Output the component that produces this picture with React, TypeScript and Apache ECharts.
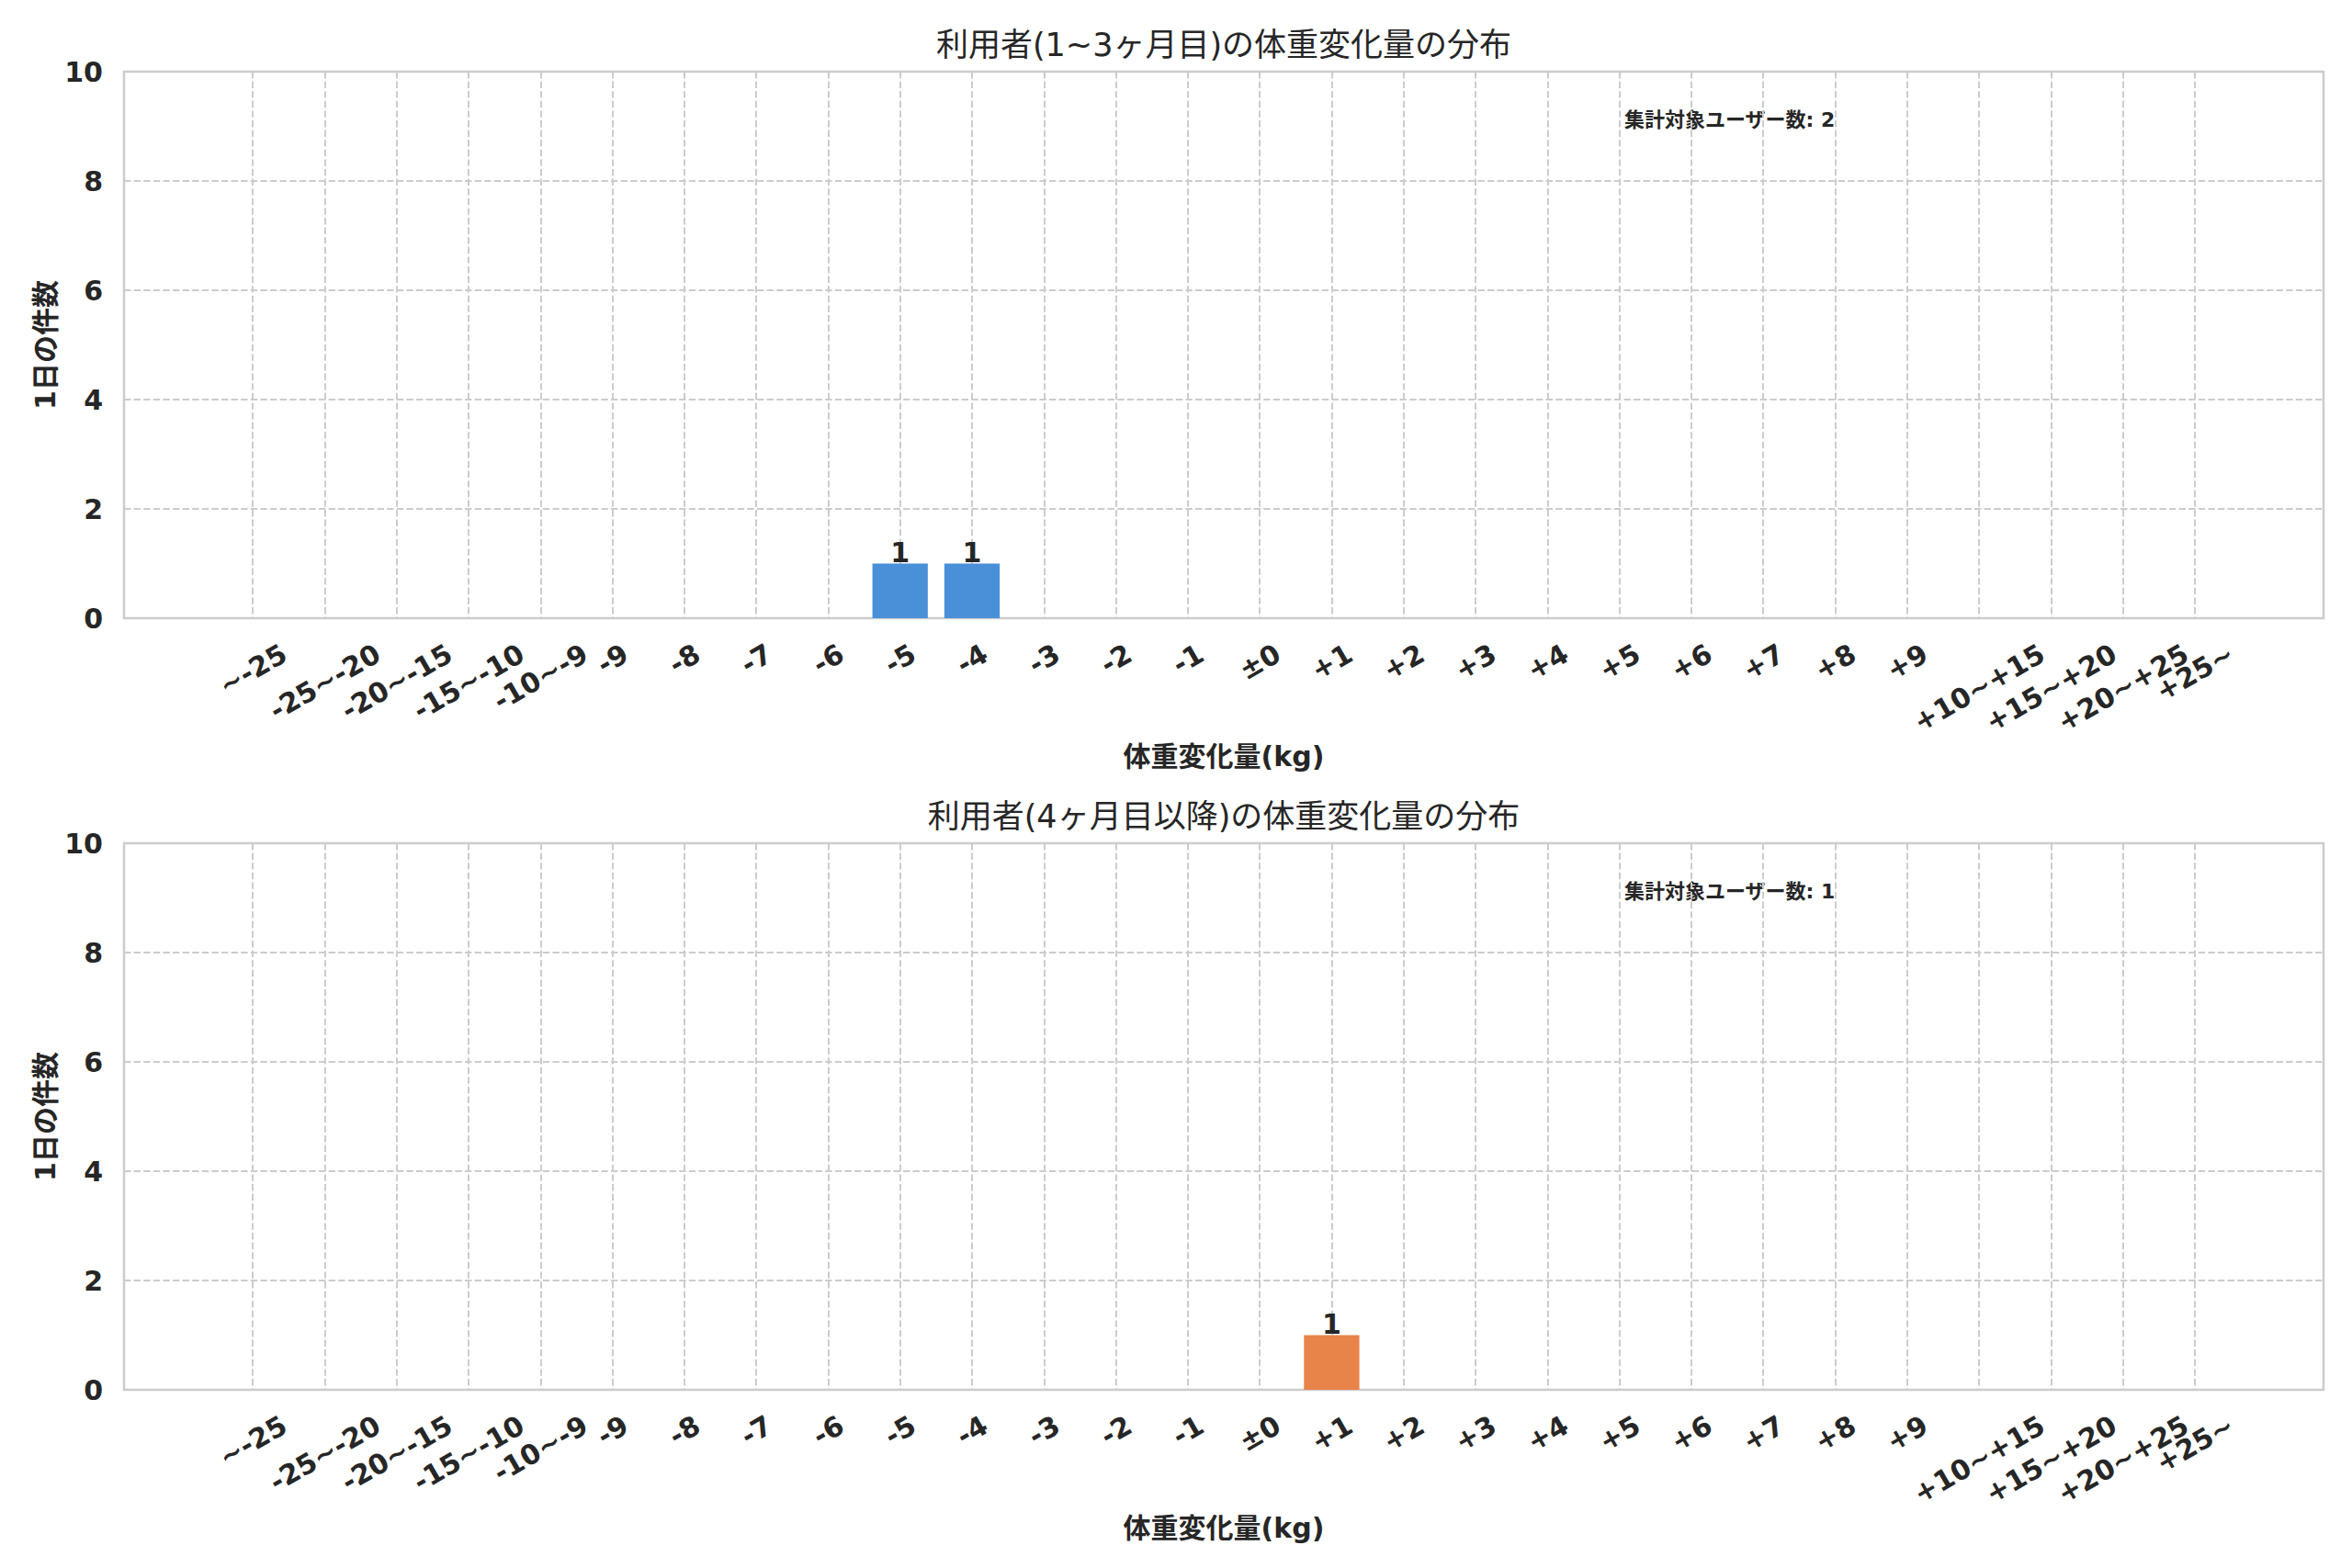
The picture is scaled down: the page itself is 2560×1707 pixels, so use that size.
import React, { useEffect, useRef } from 'react';
import * as echarts from 'echarts';

// ---- data ----
const CATEGORIES = [
  '~-25', '-25~-20', '-20~-15', '-15~-10', '-10~-9', '-9', '-8', '-7', '-6', '-5',
  '-4', '-3', '-2', '-1', '±0', '+1', '+2', '+3', '+4', '+5', '+6', '+7', '+8', '+9',
  '+10~+15', '+15~+20', '+20~+25', '+25~',
];
const SHORT_TERM_COUNTS = [0, 0, 0, 0, 0, 0, 0, 0, 0, 1, 1, 0, 0, 0, 0, 0, 0, 0, 0, 0, 0, 0, 0, 0, 0, 0, 0, 0];
const LONG_TERM_COUNTS = [0, 0, 0, 0, 0, 0, 0, 0, 0, 0, 0, 0, 0, 0, 0, 1, 0, 0, 0, 0, 0, 0, 0, 0, 0, 0, 0, 0];
const PANEL_TITLES = ['利用者(1~3ヶ月目)の体重変化量の分布', '利用者(4ヶ月目以降)の体重変化量の分布'];
const PANEL_COLORS = ['#4a90d9', '#e8834a'];
const X_AXIS_NAME = '体重変化量(kg)';
const Y_AXIS_NAME = '1日の件数';
const TOTAL_LABEL = '集計対象ユーザー数';
const Y_MIN = 0;
const Y_MAX = 10;
const Y_INTERVAL = 2;

const FONT = '"DejaVu Sans", "Noto Sans CJK JP", sans-serif';
const TEXT_COLOR = '#262626';
const GRID_COLOR = '#cccccc';

export default function App() {
  const ref = useRef<HTMLDivElement>(null);

  useEffect(() => {
    if (!ref.current) return;
    const chart = echarts.init(ref.current, undefined, { renderer: 'svg' });

    const panels = [SHORT_TERM_COUNTS, LONG_TERM_COUNTS];
    const plotLeft = 135;
    const plotRight = 31;
    const plotTops = [78, 918];
    const plotHeight = 595;
    const plotWidth = 2560 - plotLeft - plotRight;
    const xMin = -1.79;
    const xMax = CATEGORIES.length - 1 + 1.79;
    const idx = CATEGORIES.map((_, i) => i);
    // empty labels at both ends so no category label is dropped as "overlapping the max label"
    const labelValues = [xMin, ...idx, xMax];

    // measure label widths to mimic centered rotated labels (top-aligned boxes)
    const canvas = document.createElement('canvas');
    const ctx = canvas.getContext('2d')!;
    ctx.font = 'bold 30px "DejaVu Sans"';
    const rich: Record<string, any> = {};
    CATEGORIES.forEach((c, i) => {
      const w = ctx.measureText(c).width;
      const d = w / 4;
      rich['l' + i] = {
        fontSize: 30,
        fontWeight: 'bold',
        fontFamily: FONT,
        color: TEXT_COLOR,
        padding: [1.732 * d, d, 0, 0],
      };
    });

    const grids = plotTops.map((top) => ({
      left: plotLeft,
      top,
      width: plotWidth,
      height: plotHeight,
      show: true,
      borderColor: GRID_COLOR,
      borderWidth: 2.5,
      backgroundColor: 'transparent',
      containLabel: false,
      outerBoundsMode: 'none',
    }));

    const xAxes = panels.map((_, g) => ({
      type: 'value',
      gridIndex: g,
      min: xMin,
      max: xMax,
      axisLine: { show: false },
      axisTick: { show: false, customValues: idx },
      splitLine: { show: true, lineStyle: { color: GRID_COLOR, width: 2, type: [7.4, 3.2] } },
      axisLabel: {
        customValues: labelValues,
        rotate: 30,
        align: 'center',
        verticalAlign: 'middle',
        margin: 36,
        showMinLabel: true,
        showMaxLabel: true,
        hideOverlap: false,
        formatter: (v: number) => {
          const i = Math.round(v);
          if (Math.abs(v - i) > 1e-6 || !CATEGORIES[i]) return '';
          return `{l${i}|${CATEGORIES[i]}}`;
        },
        rich,
      },
      name: X_AXIS_NAME,
      nameLocation: 'middle',
      nameGap: 135,
      nameMoveOverlap: false,
      nameTextStyle: { fontSize: 30, fontWeight: 'bold', fontFamily: FONT, color: TEXT_COLOR },
    }));

    const yAxes = panels.map((_, g) => ({
      type: 'value',
      gridIndex: g,
      min: Y_MIN,
      max: Y_MAX,
      interval: Y_INTERVAL,
      axisLine: { show: false },
      axisTick: { show: false },
      splitLine: { show: true, lineStyle: { color: GRID_COLOR, width: 2, type: [7.4, 3.2] } },
      axisLabel: { fontSize: 30, fontWeight: 'bold', fontFamily: FONT, color: TEXT_COLOR, margin: 23 },
      name: Y_AXIS_NAME,
      nameLocation: 'middle',
      nameGap: 71,
      nameMoveOverlap: false,
      nameTextStyle: { fontSize: 30, fontWeight: 'bold', fontFamily: FONT, color: TEXT_COLOR },
    }));

    const series = panels.map((counts, g) => ({
      type: 'bar',
      xAxisIndex: g,
      yAxisIndex: g,
      data: counts.map((v, i) => [i, v]),
      barWidth: '77%',
      itemStyle: { color: PANEL_COLORS[g] },
      label: {
        show: true,
        position: 'top',
        distance: -3,
        fontSize: 30,
        fontWeight: 'bold',
        fontFamily: FONT,
        color: TEXT_COLOR,
        formatter: (p: any) => (p.value[1] ? String(p.value[1]) : ''),
      },
    }));

    const graphics: any[] = [];
    panels.forEach((counts, g) => {
      const total = counts.reduce((a, b) => a + b, 0);
      graphics.push({
        type: 'text',
        x: plotLeft + plotWidth / 2,
        y: plotTops[g] - 29,
        style: {
          text: PANEL_TITLES[g],
          fontSize: 35,
          fontFamily: FONT,
          fill: TEXT_COLOR,
          align: 'center',
          verticalAlign: 'middle',
        },
      });
      graphics.push({
        type: 'text',
        x: plotLeft + plotWidth * 0.73,
        y: plotTops[g] + 52,
        style: {
          text: `${TOTAL_LABEL}: ${total}`,
          fontSize: 22,
          fontWeight: 'bold',
          fontFamily: FONT,
          fill: TEXT_COLOR,
          align: 'center',
          verticalAlign: 'middle',
        },
      });
    });

    chart.setOption({
      animation: false,
      backgroundColor: '#ffffff',
      textStyle: { fontFamily: FONT },
      grid: grids,
      xAxis: xAxes,
      yAxis: yAxes,
      series,
      graphic: graphics,
    });

    return () => chart.dispose();
  }, []);

  return (
    <div
      ref={ref}
      style={{ position: 'absolute', left: 0, top: 0, width: 2560, height: 1707 }}
    />
  );
}
